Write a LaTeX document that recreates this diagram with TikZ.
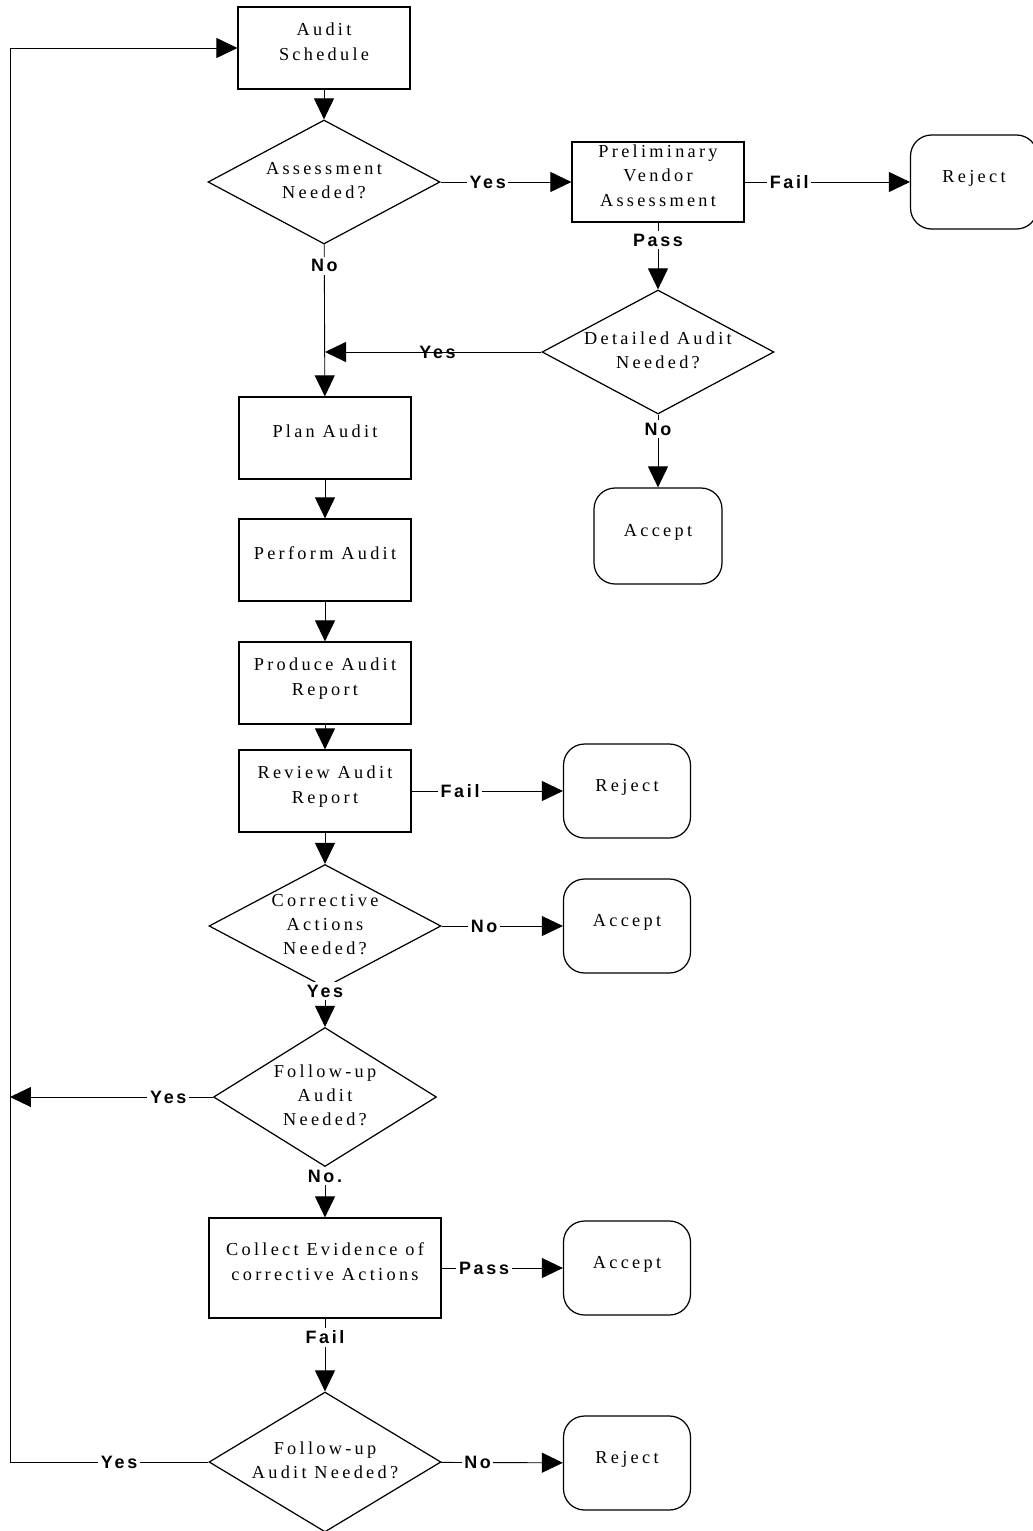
\documentclass[tikz,border=0pt]{standalone}
\usepackage{fontspec}
\setmainfont{Liberation Serif}[LetterSpace=18]
\newfontfamily\lblfont{Liberation Sans}[LetterSpace=15]
\usetikzlibrary{arrows.meta}
\usetikzlibrary{shapes.geometric}
\tikzset{flow/.style = {-{Triangle[length=0.42cm, width=0.4cm]}}}
\tikzset{proc/.style = {draw, rectangle, line width=0.7pt, minimum width=3.44cm,
                        minimum height=1.64cm, align=center, text depth=0.26cm,
                        font=\fontsize{10.4}{14}\selectfont}}
\tikzset{decide/.style = {draw, diamond, inner sep=0, line width=0.7pt,
                          minimum width=4.64cm, minimum height=2.48cm,
                          font=\fontsize{10.4}{13.6}\selectfont}}
\tikzset{term/.style = {draw, rectangle, rounded corners=0.42cm, line width=0.7pt,
                        minimum width=2.54cm, minimum height=1.88cm, text depth=0.22cm,
                        font=\fontsize{10.4}{14}\selectfont}}
\tikzset{lbl/.style = {fill=white, inner sep=1.5pt,
                       font=\lblfont\bfseries\fontsize{10.2}{12}\selectfont}}
\newcommand{\zw}[1]{\makebox[0pt]{\raisebox{0.08cm}{\begin{tabular}{@{}c@{}}#1\end{tabular}}}}

\begin{document}
\begin{tikzpicture}[x=0.02cm, y=-0.02cm, line width=0.5pt]
  \useasboundingbox (0,0) rectangle (1032,1531);

  % main column
  \node [proc] (sched) at (324,48) {Audit\\Schedule};
  \node [decide] (assess) at (324,182) {\zw{Assessment\\Needed?}};
  \node [proc] (plan) at (325,438) {Plan Audit};
  \node [proc] (perform) at (325,560) {Perform Audit};
  \node [proc] (produce) at (325,683) {Produce Audit\\Report};
  \node [proc] (review) at (325,791) {Review Audit\\Report};
  \node [decide, minimum height=2.46cm] (correct) at (325,926) {\zw{Corrective\\Actions\\Needed?}};
  \node [decide, minimum width=4.46cm, minimum height=2.78cm] (fupA) at (325,1097) {\zw{Follow-up\\Audit\\Needed?}};
  \node [proc, minimum width=4.64cm, minimum height=2cm] (collect) at (325,1268) {Collect Evidence of\\corrective Actions};
  \node [decide, minimum height=2.8cm] (fupB) at (325,1462) {\zw{Follow-up\\Audit Needed?}};

  % right hand side
  \node [proc, minimum height=1.6cm, inner ysep=1pt] (prelim) at (658,182) {Preliminary\\Vendor\\Assessment};
  \node [term] (rejA) at (974,182) {Reject};
  \node [decide] (detail) at (658,352) {\zw{Detailed Audit\\Needed?}};
  \node [term, minimum width=2.56cm, minimum height=1.92cm] (accA) at (658,536) {Accept};
  \node [term] (rejB) at (627,791) {Reject};
  \node [term] (accB) at (627,926) {Accept};
  \node [term] (accC) at (627,1268) {Accept};
  \node [term] (rejC) at (627,1463) {Reject};

  \coordinate (join) at (325,352);
  \coordinate (lftA) at (10,1097);
  \coordinate (lftB) at (10,1462);
  \coordinate (lftC) at (10,48);

  % connectors
  \draw [flow] (sched) -- (assess);
  \draw [flow] (assess) -- node [lbl, pos=0.14] {No} (plan);
  \draw [flow] (assess) -- node [lbl, pos=0.36] {Yes} (prelim);
  \draw [flow] (prelim) -- node [lbl, pos=0.27] {Fail} (rejA);
  \draw [flow] (prelim) -- node [lbl, pos=0.26] {Pass} (detail);
  \draw [flow] (detail) -- node [lbl, pos=0.48, fill=none] {Yes} (join);
  \draw [flow] (detail) -- node [lbl, pos=0.2] {No} (accA);
  \draw [flow] (plan) -- (perform);
  \draw [flow] (perform) -- (produce);
  \draw [flow] (produce) -- (review);
  \draw [flow] (review) -- node [lbl, pos=0.32] {Fail} (rejB);
  \draw [flow] (review) -- (correct);
  \draw [flow] (correct) -- node [lbl, pos=0.35] {No} (accB);
  \draw [flow] (correct) -- node [lbl, pos=0.08] {Yes} (fupA);
  \draw [flow] (fupA) -- node [lbl, pos=0.22] {Yes} (lftA);
  \draw [flow] (fupA) -- node [lbl, pos=0.18] {No.} (collect);
  \draw [flow] (collect) -- node [lbl, pos=0.35] {Pass} (accC);
  \draw [flow] (collect) -- node [lbl, pos=0.26] {Fail} (fupB);
  \draw [flow] (fupB) -- node [lbl, pos=0.3] {No} (rejC);
  \draw [flow] (fupB) -- node [lbl, pos=0.45] {Yes} (lftB) -- (lftC) -- (sched);
\end{tikzpicture}
\end{document}
